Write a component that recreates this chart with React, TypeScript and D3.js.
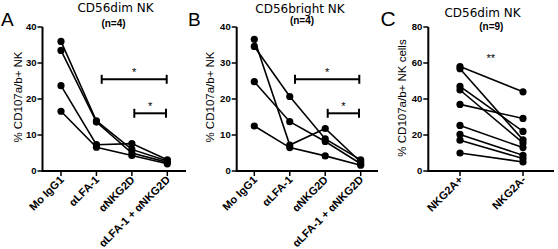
import React from "react";
import * as d3 from "d3";

// ---- data ----
const groupsAB = ["Mo IgG1", "αLFA-1", "αNKG2D", "αLFA-1 + αNKG2D"];
const yTicksAB = [0, 10, 20, 30, 40];

// Panel A: CD56dim NK (n=4), one array per donor across groupsAB
const dimDonor1 = [36.0, 13.9, 6.0, 2.8];
const dimDonor2 = [33.5, 13.6, 5.0, 2.4];
const dimDonor3 = [23.7, 7.3, 7.6, 3.1];
const dimDonor4 = [16.6, 6.6, 4.3, 2.0];

// Panel B: CD56bright NK (n=4)
const brightDonor1 = [36.6, 7.2, 11.8, 2.5];
const brightDonor2 = [34.6, 20.7, 8.9, 3.1];
const brightDonor3 = [24.8, 13.7, 8.2, 2.0];
const brightDonor4 = [12.5, 6.5, 4.2, 1.6];

// Panel C: CD56dim NK (n=9)
const groupsC = ["NKG2A+", "NKG2A-"];
const yTicksC = [0, 20, 40, 60, 80];
const nkg2aPos = [58, 56.8, 47, 45, 37, 25.3, 20.3, 17.1, 10];
const nkg2aNeg = [44, 17.3, 22, 15.6, 29.2, 13, 8.7, 6.9, 5];

const FONT = "'Liberation Sans', Arial, sans-serif";
const TFONT = "'DejaVu Sans', Verdana, sans-serif";

type Sig = { from: number; to: number; yPix: number; label: string };

function Panel(props: {
  axisX: number;
  axisRight: number;
  firstTick: number;
  lastTick: number;
  groups: string[];
  series: number[][];
  yMax: number;
  yTicks: number[];
  yLabel: string;
  yLabelX: number;
  yLabelY: number;
  letter: string;
  letterX: number;
  letterY: number;
  letterSize: number;
  title: string;
  titleX: number;
  titleY: number;
  nText: string;
  nX: number;
  nY: number;
  sigs: Sig[];
  stars?: { x: number; y: number; label: string };
}) {
  const p = props;
  const yTop = 27;
  const yBot = 171;
  const y = d3.scaleLinear().domain([0, p.yMax]).range([yBot, yTop]);
  const x = d3.scalePoint<string>().domain(p.groups).range([p.firstTick, p.lastTick]).padding(0);
  const line = d3
    .line<number>()
    .x((_, i) => x(p.groups[i]) as number)
    .y((v) => y(v));
  return (
    <g>
      <text x={p.letterX} y={p.letterY} fontFamily={FONT} fontSize={p.letterSize} fill="#000">
        {p.letter}
      </text>
      <text x={p.titleX} y={p.titleY} textAnchor="middle" fontFamily={TFONT} fontSize={12} fill="#000">
        {p.title}
      </text>
      <text x={p.nX} y={p.nY} textAnchor="middle" fontFamily={FONT} fontWeight="bold" fontSize={10} fill="#000">
        {p.nText}
      </text>
      <text
        transform={`translate(${p.yLabelX},${p.yLabelY}) rotate(-90)`}
        textAnchor="middle"
        fontFamily={FONT}
        fontSize={11.5}
        fill="#000"
      >
        {p.yLabel}
      </text>
      {/* axes */}
      <line x1={p.axisX} x2={p.axisX} y1={yTop} y2={yBot} stroke="#000" strokeWidth={2} />
      <line x1={p.axisX - 1} x2={p.axisRight} y1={yBot} y2={yBot} stroke="#000" strokeWidth={2} />
      {p.yTicks.map((t) => (
        <g key={t}>
          <line x1={p.axisX - 5} x2={p.axisX} y1={y(t)} y2={y(t)} stroke="#000" strokeWidth={1.5} />
          <text
            x={p.axisX - 6}
            y={y(t) + 3.4}
            textAnchor="end"
            fontFamily={FONT}
            fontWeight="bold"
            fontSize={9.5}
            fill="#000"
          >
            {t}
          </text>
        </g>
      ))}
      {p.groups.map((g) => (
        <g key={g}>
          <line x1={x(g)} x2={x(g)} y1={yBot} y2={yBot + 5} stroke="#000" strokeWidth={1.5} />
          <text
            transform={`translate(${(x(g) as number) + 3.5},${yBot + 9.5}) rotate(-45)`}
            textAnchor="end"
            fontFamily={FONT}
            fontWeight="bold"
            fontSize={11}
            fill="#000"
          >
            {g}
          </text>
        </g>
      ))}
      {/* data */}
      {p.series.map((s, i) => (
        <path key={"l" + i} d={line(s) || ""} fill="none" stroke="#000" strokeWidth={1.6} />
      ))}
      {p.series.map((s, i) =>
        s.map((v, j) => <circle key={`c${i}-${j}`} cx={x(p.groups[j])} cy={y(v)} r={3.6} fill="#000" />)
      )}
      {/* significance */}
      {p.sigs.map((s, i) => (
        <g key={"s" + i}>
          <line x1={s.from} x2={s.to} y1={s.yPix} y2={s.yPix} stroke="#000" strokeWidth={2} />
          <line x1={s.from} x2={s.from} y1={s.yPix - 4.5} y2={s.yPix + 4.5} stroke="#000" strokeWidth={2} />
          <line x1={s.to} x2={s.to} y1={s.yPix - 4.5} y2={s.yPix + 4.5} stroke="#000" strokeWidth={2} />
          <text x={(s.from + s.to) / 2} y={s.yPix - 3} textAnchor="middle" fontFamily={FONT} fontSize={11} fill="#000">
            {s.label}
          </text>
        </g>
      ))}
      {p.stars && (
        <text x={p.stars.x} y={p.stars.y} textAnchor="middle" fontFamily={FONT} fontSize={11} fill="#000">
          {p.stars.label}
        </text>
      )}
    </g>
  );
}

export default function App() {
  return (
    <svg width={558} height={249} style={{ position: "absolute", left: 0, top: 0, background: "#fff" }}>
      <rect width={558} height={249} fill="#fff" />
      <Panel
        axisX={42.5}
        axisRight={186}
        firstTick={61}
        lastTick={167.3}
        groups={groupsAB}
        series={[dimDonor1, dimDonor2, dimDonor3, dimDonor4]}
        yMax={40}
        yTicks={yTicksAB}
        yLabel="% CD107a/b+ NK"
        yLabelX={22}
        yLabelY={97}
        letter="A"
        letterX={1}
        letterY={26}
        letterSize={19}
        title="CD56dim NK"
        titleX={115.5}
        titleY={12}
        nText="(n=4)"
        nX={113.5}
        nY={26.5}
        sigs={[
          { from: 101.7, to: 166.7, yPix: 79.3, label: "*" },
          { from: 134.3, to: 166, yPix: 113.3, label: "*" },
        ]}
      />
      <Panel
        axisX={236.7}
        axisRight={378}
        firstTick={254.3}
        lastTick={360.7}
        groups={groupsAB}
        series={[brightDonor1, brightDonor2, brightDonor3, brightDonor4]}
        yMax={40}
        yTicks={yTicksAB}
        yLabel="% CD107a/b+ NK"
        yLabelX={213.5}
        yLabelY={97}
        letter="B"
        letterX={188}
        letterY={25.5}
        letterSize={19}
        title="CD56bright NK"
        titleX={300}
        titleY={12.5}
        nText="(n=4)"
        nX={302}
        nY={24}
        sigs={[
          { from: 295, to: 359.3, yPix: 79.3, label: "*" },
          { from: 327.7, to: 359, yPix: 113.3, label: "*" },
        ]}
      />
      <Panel
        axisX={428.3}
        axisRight={554}
        firstTick={460}
        lastTick={523}
        groups={groupsC}
        series={nkg2aPos.map((v, i) => [v, nkg2aNeg[i]])}
        yMax={80}
        yTicks={yTicksC}
        yLabel="% CD107a/b+ NK cells"
        yLabelX={406}
        yLabelY={98}
        letter="C"
        letterX={380.5}
        letterY={26}
        letterSize={21}
        title="CD56dim NK"
        titleX={482.5}
        titleY={16.5}
        nText="(n=9)"
        nX={491.3}
        nY={30}
        sigs={[]}
        stars={{ x: 490.7, y: 62, label: "**" }}
      />
    </svg>
  );
}
